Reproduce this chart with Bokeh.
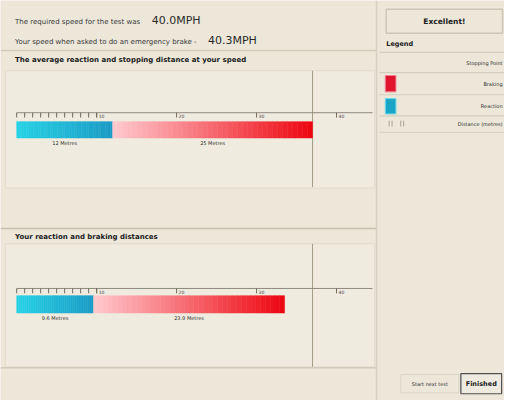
from bokeh.plotting import figure
from bokeh.models import Range1d
from bokeh.embed import file_html
from bokeh.resources import INLINE
from bokeh.core.properties import value
import numpy as np

# ---------------- data ----------------
required_speed = "40.0MPH"
your_speed = "40.3MPH"
avg_reaction = 12.0      # metres
avg_braking = 25.0       # metres
your_reaction = 9.6      # metres
your_braking = 23.9      # metres
major_ticks = [10, 20, 30, 40]
major_labels = ["10", "20", "30", "40"]
minor_ticks = [0, 1, 2, 3, 4, 5, 6, 7, 8, 9, 10]
legend_labels = ["Stopping Point", "Braking", "Reaction", "Distance (metres)"]
rating = "Excellent!"
axis_end = 44.5          # metres

# ---------------- layout helpers (reference pixel space) ----------------
ORIGIN = 16.7
PXM = 8.25
def X(px):
    return (px - ORIGIN) / PXM

FONT = value("DejaVu Sans")
BG = "#ECE7D9"

p = figure(width=504, height=400, x_range=Range1d(X(0), X(520)), y_range=Range1d(416, 0),
           output_backend="svg", toolbar_location=None, min_border=0,
           x_axis_location=None, y_axis_location=None)
p.grid.visible = False
p.outline_line_color = None
p.background_fill_color = BG
p.border_fill_color = BG

def hline(x0, x1, y, color, w=1.0):
    p.segment(x0=[X(x0)], x1=[X(x1)], y0=[y], y1=[y], line_color=color, line_width=w)

def vline(x, y0, y1, color, w=1.0):
    p.segment(x0=[X(x)], x1=[X(x)], y0=[y0], y1=[y1], line_color=color, line_width=w)

def txt(x, y, s, size, bold=False, align="left", color="#202020"):
    p.text(x=[X(x)], y=[y], text=[s], text_font=FONT, text_font_size=size,
           text_font_style="bold" if bold else "normal", text_align=align,
           text_baseline="middle", text_color=color)

# ---------------- header ----------------
txt(15, 22, "The required speed for the test was", "7px", color="#3A3A3A")
txt(156, 21, required_speed, "11px", color="#2A2A2A")
txt(15, 43, "Your speed when asked to do an emergency brake -", "7px", color="#3A3A3A")
txt(214, 42, your_speed, "11px", color="#2A2A2A")
hline(0, 388, 52, "#D2CCBC", 1.5)

# ---------------- panels ----------------
p.quad(left=[X(5)], right=[X(386)], top=[73], bottom=[195], fill_color="#EFEBDF",
       line_color="#E2DCCD", line_width=1)
p.quad(left=[X(5)], right=[X(386)], top=[253], bottom=[381], fill_color="#EFEBDF",
       line_color="#E2DCCD", line_width=1)
hline(0, 388, 237, "#C6C0B0", 1.5)
hline(0, 388, 382, "#D2CCBC", 1.5)
vline(388, 0, 416, "#D6D0C0", 1.5)

txt(15, 62, "The average reaction and stopping distance at your speed", "7px", bold=True)
txt(15, 246, "Your reaction and braking distances", "7px", bold=True)

def gradient_bar(x0, x1, yt, yb, c0, c1, n=40):
    edges = np.linspace(x0, x1, n + 1)
    t = np.linspace(0, 1, n)
    cols = ["#%02x%02x%02x" % tuple(int(round(a + (b - a) * k)) for a, b in zip(c0, c1)) for k in t]
    p.quad(left=edges[:-1], right=edges[1:], top=yt, bottom=yb, fill_color=cols,
           line_color=cols, line_width=0.5)

CY0, CY1 = (38, 210, 230), (26, 156, 198)
RD0, RD1 = (255, 200, 205), (238, 8, 18)

def chart(axis_y, bar_top, bar_bot, reaction, braking, stop_line, panel_top, panel_bot):
    total = reaction + braking
    # stopping point line (average)
    p.segment(x0=[stop_line], x1=[stop_line], y0=[panel_top], y1=[panel_bot],
              line_color="#A49C88", line_width=1)
    # axis
    p.segment(x0=[0], x1=[axis_end], y0=[axis_y], y1=[axis_y], line_color="#8E8A7E", line_width=1)
    p.segment(x0=minor_ticks, x1=minor_ticks, y0=axis_y, y1=axis_y + 5,
              line_color="#6E6A60", line_width=1)
    p.segment(x0=major_ticks, x1=major_ticks, y0=axis_y, y1=axis_y + 5,
              line_color="#6E6A60", line_width=1)
    p.text(x=[t + 0.25 for t in major_ticks], y=axis_y + 3.5, text=major_labels, text_font=FONT,
           text_font_size="4.5px", text_align="left", text_baseline="middle", text_color="#404040")
    # bars
    gradient_bar(0, reaction, bar_top, bar_bot, CY0, CY1)
    gradient_bar(reaction, total, bar_top, bar_bot, RD0, RD1)
    lab_y = bar_bot + 5.5
    p.text(x=[reaction / 2, reaction + braking / 2], y=lab_y,
           text=["%g Metres" % reaction, "%g Metres" % braking], text_font=FONT,
           text_font_size="5px", text_align="center", text_baseline="middle", text_color="#303030")

avg_total = avg_reaction + avg_braking
chart(116.7, 126, 143, avg_reaction, avg_braking, avg_total, 73, 194)
chart(299.5, 307, 325, your_reaction, your_braking, avg_total, 253, 381)

# ---------------- right panel ----------------
p.quad(left=[X(398)], right=[X(518)], top=[9], bottom=[34], fill_color=None,
       line_color="#CCC6B6", line_width=1.5)
txt(458, 22, rating, "7.5px", bold=True, align="center")
txt(398, 45, "Legend", "6.5px", bold=True)
for yy in [54, 75, 98, 120, 137]:
    hline(391, 520, yy, "#D4CEBE", 1.2)
row_y = [65, 87, 110, 128]
for lab, yy in zip(legend_labels, row_y):
    txt(518, yy, lab, "5px", align="right", color="#303030")
p.quad(left=[X(397)], right=[X(408)], top=[78], bottom=[95], fill_color="#E0142C", line_color="#F08090")
p.quad(left=[X(397)], right=[X(408)], top=[102], bottom=[118], fill_color="#1AA6C6", line_color="#70D8EC")
for xx in [401, 404, 413, 416]:
    vline(xx, 125, 131, "#A8A498", 1)

# ---------------- buttons ----------------
p.quad(left=[X(413)], right=[X(473)], top=[389], bottom=[408], fill_color=None,
       line_color="#DAD4C4", line_width=1)
txt(443, 398.5, "Start next test", "5px", align="center", color="#303030")
p.quad(left=[X(475)], right=[X(517)], top=[388], bottom=[409], fill_color="#EEEADF",
       line_color="#505050", line_width=1.2)
txt(496, 398.5, "Finished", "6.5px", bold=True, align="center")

open("out.html", "w").write(file_html(p, INLINE))
